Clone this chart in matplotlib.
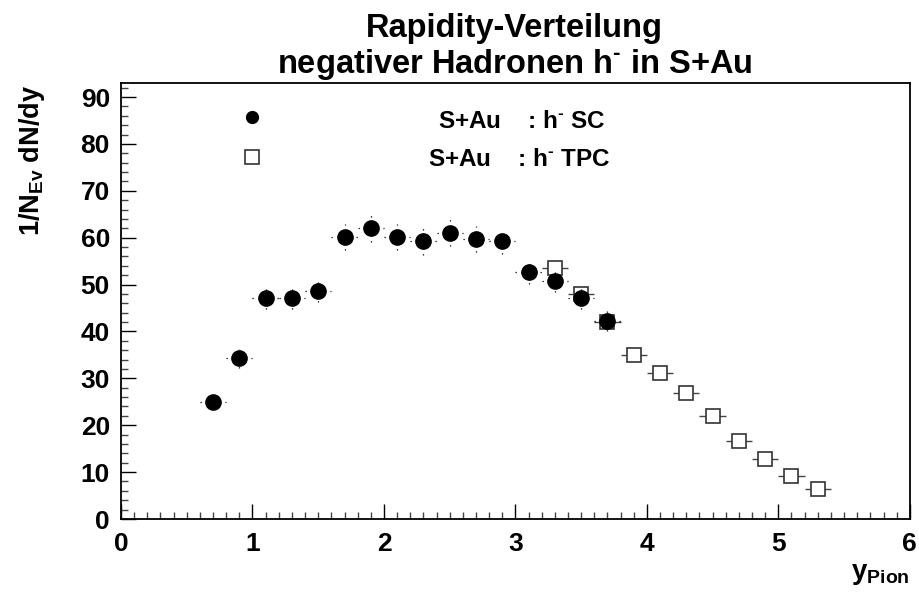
import matplotlib
matplotlib.use("Agg")
import matplotlib.pyplot as plt
from matplotlib.ticker import MultipleLocator

plt.rcParams['font.family'] = ['Liberation Sans', 'DejaVu Sans']
plt.rcParams['font.weight'] = 'bold'
plt.rcParams['mathtext.fontset'] = 'custom'
plt.rcParams['mathtext.rm'] = 'Liberation Sans:bold'
plt.rcParams['mathtext.bf'] = 'Liberation Sans:bold'
plt.rcParams['mathtext.it'] = 'Liberation Sans:bold'
plt.rcParams['mathtext.default'] = 'rm'

# S+Au h- SC
sc_y_pos = [0.7, 0.9, 1.1, 1.3, 1.5, 1.7, 1.9, 2.1, 2.3, 2.5, 2.7, 2.9, 3.1, 3.3, 3.5, 3.7]
sc_dndy = [25.0, 34.3, 47.1, 47.1, 48.6, 60.1, 62.0, 60.1, 59.2, 61.1, 59.7, 59.2, 52.7, 50.8, 47.1, 42.2]
sc_err = [1.6, 2.0, 2.2, 2.2, 2.4, 2.8, 2.9, 2.8, 2.8, 2.8, 2.8, 2.7, 2.5, 2.4, 2.2, 2.1]

# S+Au h- TPC
tpc_y_pos = [3.3, 3.5, 3.7, 3.9, 4.1, 4.3, 4.5, 4.7, 4.9, 5.1, 5.3]
tpc_dndy = [53.5, 48.1, 42.1, 35.0, 31.1, 26.9, 22.0, 16.7, 12.7, 9.2, 6.3]

bin_halfwidth = 0.1

fig = plt.figure(figsize=(9.19, 5.98), dpi=100)
ax = fig.add_axes([0.1317, 0.1321, 0.990 - 0.1317, 0.8612 - 0.1321])

# TPC (open squares with horizontal bars)
ax.errorbar(tpc_y_pos, tpc_dndy, xerr=bin_halfwidth, fmt='s', ms=9.5,
            mfc='white', mec='#333333', mew=1.2, ecolor='#444444',
            elinewidth=1.0, capsize=0, zorder=3)
# SC (filled circles with dotted bars)
eb = ax.errorbar(sc_y_pos, sc_dndy, xerr=bin_halfwidth, yerr=sc_err, fmt='o', ms=11,
                 mfc='black', mec='black', ecolor='black', elinewidth=0.9,
                 capsize=0, zorder=4)
for lc in eb[2]:
    lc.set_linestyle((0, (1, 4)))

ax.set_xlim(0, 6)
ax.set_ylim(0, 93)
ax.xaxis.set_major_locator(MultipleLocator(1))
ax.xaxis.set_minor_locator(MultipleLocator(0.1))
ax.yaxis.set_major_locator(MultipleLocator(10))
ax.yaxis.set_minor_locator(MultipleLocator(2))
ax.tick_params(axis='both', which='both', direction='in', top=False, right=False,
               labelsize=19, width=1.0)
ax.tick_params(axis='both', which='major', length=11)
ax.tick_params(axis='both', which='minor', length=5.2, color='#444444')
ax.tick_params(axis='x', pad=9)
ax.tick_params(axis='y', pad=8)
for lab in ax.get_xticklabels() + ax.get_yticklabels():
    lab.set_fontweight('bold')
for s in ax.spines.values():
    s.set_linewidth(1.3)

# legend
ax.plot([1.0], [85.7], 'o', ms=8.5, color='black', clip_on=False)
ax.plot([1.0], [77.2], 's', ms=10, mfc='white', mec='#333333', mew=1.2, clip_on=False)
ax.text(3.05, 83.4, r'S+Au    : h$^{\text{-}}$ SC', ha='center', va='baseline', fontsize=17.5, fontweight='bold')
ax.text(3.03, 75.3, r'S+Au    : h$^{\text{-}}$ TPC', ha='center', va='baseline', fontsize=17.5, fontweight='bold')

# titles
fig.text(0.560, 0.938, 'Rapidity-Verteilung', ha='center', va='baseline', fontsize=23.5, fontweight='bold')
fig.text(0.560, 0.878, r'negativer Hadronen h$^{\text{-}}$ in S+Au', ha='center', va='baseline', fontsize=23.5, fontweight='bold')

# axis labels
fig.text(0.035, 0.732, r'1/N$_{\mathrm{Ev}}$ dN/dy', rotation=90, ha='center', va='center', fontsize=19.5, fontweight='bold')
fig.text(0.958, 0.040, r'y$_{\mathrm{Pion}}$', ha='center', va='center', fontsize=20, fontweight='bold')

fig.savefig('out.png', dpi=100)
